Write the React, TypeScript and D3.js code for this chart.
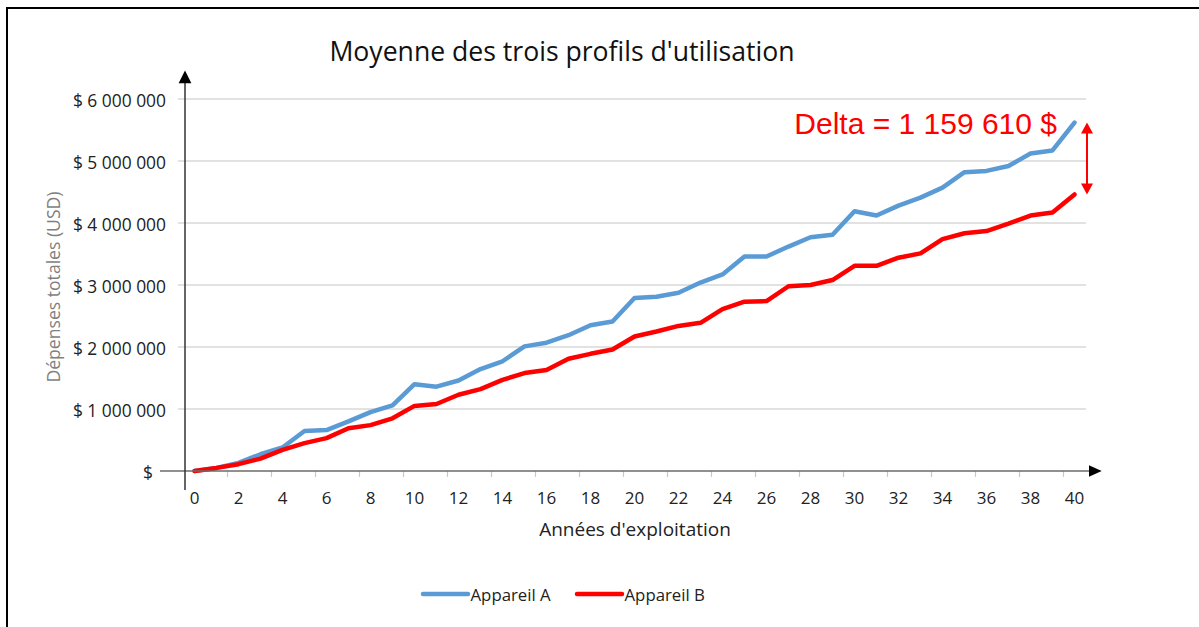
import React from "react";
import * as d3 from "d3";

const years: number[] = d3.range(0, 41);
const appareilA: number[] = [
  0, 50000, 130000, 270000, 380000, 645000, 660000, 800000, 950000, 1060000,
  1400000, 1360000, 1460000, 1645000, 1770000, 2010000, 2070000, 2190000, 2350000, 2410000,
  2790000, 2810000, 2875000, 3040000, 3170000, 3460000, 3460000, 3620000, 3770000, 3810000,
  4190000, 4120000, 4280000, 4410000, 4570000, 4820000, 4840000, 4920000, 5120000, 5170000,
  5620000,
];
const appareilB: number[] = [
  0, 50000, 110000, 200000, 340000, 450000, 530000, 690000, 740000, 850000,
  1050000, 1080000, 1230000, 1320000, 1470000, 1580000, 1630000, 1810000, 1890000, 1960000,
  2170000, 2250000, 2340000, 2390000, 2610000, 2730000, 2740000, 2980000, 3000000, 3080000,
  3310000, 3310000, 3440000, 3510000, 3740000, 3835000, 3870000, 3990000, 4120000, 4170000,
  4460000,
];
const yTicks: number[] = [0, 1000000, 2000000, 3000000, 4000000, 5000000, 6000000];
const yTickLabels: string[] = ["$", "$ 1 000 000", "$ 2 000 000", "$ 3 000 000", "$ 4 000 000", "$ 5 000 000", "$ 6 000 000"];
const xTickYears: number[] = d3.range(0, 41, 2);
const seriesNames: string[] = ["Appareil A", "Appareil B"];
const seriesColors: string[] = ["#5B9BD5", "#FF0000"];
const title = "Moyenne des trois profils d'utilisation";
const xTitle = "Années d'exploitation";
const yTitle = "Dépenses totales (USD)";
const deltaLabel = "Delta = 1 159 610 $";

const W = 1199;
const H = 627;
const FONT = "'Open Sans', sans-serif";

export default function App() {
  const x = d3.scaleBand<number>().domain(years).range([183.5, 1085.5]).paddingInner(0).paddingOuter(0);
  const step = x.step();
  const cx = (i: number) => (x(i) as number) + step / 2;
  const y = d3.scaleLinear().domain([0, 6000000]).range([471, 99]);

  const line = d3
    .line<number>()
    .x((_, i) => cx(years[i]))
    .y((d) => y(d));

  const series = [appareilA, appareilB];
  const last = years.length - 1;
  const arrowX = cx(years[last]) + 12.5;
  const yTop = y(appareilA[last]);
  const yBot = y(appareilB[last]);

  return (
    <svg width={W} height={H} style={{ position: "absolute", left: 0, top: 0, background: "#fff" }}>
      <rect x={0} y={0} width={W} height={H} fill="#fff" />
      {/* frame */}
      <rect x={7} y={8} width={1400} height={800} fill="none" stroke="#000" strokeWidth={2} />

      {/* title */}
      <text x={562} y={60.5} textAnchor="middle" fontFamily={FONT} fontSize={26.6} fill="#111">
        {title}
      </text>

      {/* gridlines */}
      {yTicks.slice(1).map((t) => (
        <line key={t} x1={178} x2={1086} y1={y(t)} y2={y(t)} stroke="#d9d9d9" strokeWidth={1.5} />
      ))}

      {/* y tick labels */}
      {yTicks.map((t, i) => (
        <text
          key={t}
          x={t === 0 ? 153 : 166}
          y={y(t) + 7.5}
          textAnchor="end"
          fontFamily={FONT}
          fontSize={17.4}
          fill="#222"
        >
          {yTickLabels[i]}
        </text>
      ))}

      {/* x ticks */}
      {xTickYears.slice(1).map((v) => (
        <line key={v} x1={x(v) as number} x2={x(v) as number} y1={471} y2={477} stroke="#c8c8c8" strokeWidth={1.2} />
      ))}
      {xTickYears.map((v) => (
        <text key={v} x={cx(v)} y={503.5} textAnchor="middle" fontFamily={FONT} fontSize={17} fill="#222">
          {v}
        </text>
      ))}

      {/* series lines */}
      {series.map((s, k) => (
        <path
          key={k}
          d={line(s) as string}
          fill="none"
          stroke={seriesColors[k]}
          strokeWidth={4.5}
          strokeLinejoin="round"
          strokeLinecap="round"
        />
      ))}

      {/* x axis with arrow */}
      <line x1={160} x2={1090} y1={471} y2={471} stroke="#6b6b6b" strokeWidth={1.6} />
      <path d="M1089,465.2 L1101.7,471 L1089,476.8 Z" fill="#000" />

      {/* y axis with arrow */}
      <line x1={185} x2={185} y1={82} y2={490} stroke="#333" strokeWidth={1.5} />
      <path d="M178.6,83.3 L185,70.5 L191.4,83.3 Z" fill="#000" />

      {/* axis titles */}
      <text x={635} y={536} textAnchor="middle" fontFamily={FONT} fontSize={19} fill="#222">
        {xTitle}
      </text>
      <text
        transform={`translate(60,287) rotate(-90)`}
        textAnchor="middle"
        fontFamily={FONT}
        fontSize={17.6}
        fill="#7f7f7f"
      >
        {yTitle}
      </text>

      {/* delta annotation */}
      <text x={1057} y={134} textAnchor="end" fontFamily="'Liberation Sans', Arial, sans-serif" fontSize={30} fill="#FF0000">
        {deltaLabel}
      </text>
      <line x1={arrowX} x2={arrowX} y1={yTop + 8} y2={yBot - 8} stroke="#FF0000" strokeWidth={2} />
      <path d={`M${arrowX - 6},${yTop + 11} L${arrowX},${yTop} L${arrowX + 6},${yTop + 11} Z`} fill="#FF0000" />
      <path d={`M${arrowX - 6},${yBot - 11} L${arrowX},${yBot} L${arrowX + 6},${yBot - 11} Z`} fill="#FF0000" />

      {/* legend */}
      {seriesNames.map((n, k) => {
        const lx = [423, 577][k];
        return (
          <g key={n}>
            <line x1={lx} x2={lx + 45} y1={594} y2={594} stroke={seriesColors[k]} strokeWidth={4.5} strokeLinecap="round" />
            <text x={lx + 47.5} y={600.5} fontFamily={FONT} fontSize={16.8} fill="#222">
              {n}
            </text>
          </g>
        );
      })}
    </svg>
  );
}
